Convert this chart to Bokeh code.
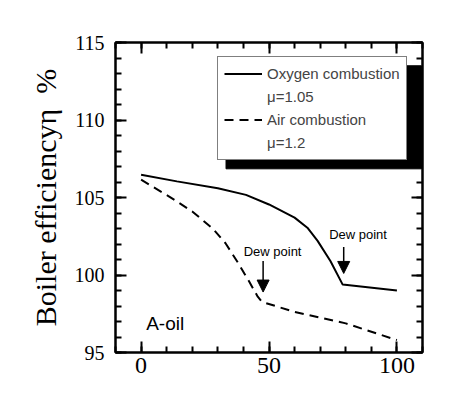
import math
from bokeh.plotting import figure
from bokeh.models import (Range1d, LinearAxis, Legend, LegendItem, Arrow, NormalHead,
                          Title, FixedTicker)
from bokeh.core.properties import value
from bokeh.embed import file_html
from bokeh.resources import INLINE

# ---- data ----
oxy_x = [0, 14, 30, 41, 50, 60, 65, 69, 74, 78.8, 100]
oxy_y = [106.47, 106.04, 105.6, 105.17, 104.55, 103.7, 103.05, 102.2, 100.9, 99.38, 99.0]
air_x = [0, 11, 20, 28, 33, 38, 42.3, 45.6, 47.2, 60, 80, 100]
air_y = [106.15, 105.06, 104.1, 103.0, 102.05, 100.76, 99.56, 98.6, 98.27, 97.62, 96.88, 95.8]

x_ticks = [0, 50, 100]
y_ticks = [95, 100, 105, 110, 115]
x_minor = list(range(-10, 111, 10))
y_minor = list(range(95, 116))

dew_x = [47.7, 79.2]
dew_y_start = [100.9, 101.8]
dew_y_end = [98.9, 100.1]
dew_text_x = [51.4, 84.8]
dew_text_y = [101.5, 102.6]

SERIF = "Liberation Serif"
SANS = "Liberation Sans"

p = figure(width=439, height=377, output_backend="svg", toolbar_location=None,
           x_range=Range1d(-10, 110), y_range=Range1d(95, 115),
           min_border_left=115, min_border_right=17, min_border_top=42, min_border_bottom=25)
p.background_fill_color = "white"
p.border_fill_color = "white"
p.outline_line_color = "black"
p.outline_line_width = 2
p.xgrid.visible = False
p.ygrid.visible = False

def style_axis(ax, ticks, minor, label_size, show_labels=True):
    ax.ticker = FixedTicker(ticks=ticks, minor_ticks=minor)
    ax.major_tick_in = 11
    ax.major_tick_out = 0
    ax.minor_tick_in = 6
    ax.minor_tick_out = 0
    ax.major_tick_line_width = 2
    ax.minor_tick_line_width = 2
    ax.axis_line_width = 2
    ax.axis_line_color = "black"
    ax.major_tick_line_color = "black"
    ax.minor_tick_line_color = "black"
    ax.major_label_text_font = SERIF
    ax.major_label_text_font_size = label_size
    ax.major_label_text_color = "black" if show_labels else None

style_axis(p.xaxis[0], x_ticks, x_minor, "24px")
p.xaxis[0].major_label_standoff = 5
style_axis(p.yaxis[0], y_ticks, y_minor, "20px")
p.yaxis[0].major_label_standoff = 11

top_ax = LinearAxis()
style_axis(top_ax, x_ticks, x_minor, "1px", show_labels=False)
p.add_layout(top_ax, "above")
right_ax = LinearAxis()
style_axis(right_ax, y_ticks, y_minor, "1px", show_labels=False)
p.add_layout(right_ax, "right")

# y axis title placed beside the left axis
ytitle = Title(text="Boiler efficiency\u03b7\u00a0\u00a0%", align="center", offset=0, standoff=20,
               text_font=SERIF, text_font_size="30px", text_font_style="normal",
               text_color="black")
p.add_layout(ytitle, "left")

# legend shadow
p.quad(left=[33.2], right=[109.6], top=[113.5], bottom=[106.85],
       fill_color="black", line_color="black")

oxy = p.line(oxy_x, oxy_y, line_color="black", line_width=2)
air = p.line(air_x, air_y, line_color="black", line_width=2, line_dash="9 6")
blank = p.line([0, 0], [0, 0], line_alpha=0)

for xs, ys, ye in zip(dew_x, dew_y_start, dew_y_end):
    p.add_layout(Arrow(end=NormalHead(size=12, fill_color="black", line_color="black"),
                       x_start=xs, y_start=ys, x_end=xs, y_end=ye,
                       line_width=1.5, line_color="black"))

p.text(x=dew_text_x, y=dew_text_y, text=["Dew point", "Dew point"],
       text_font=value(SANS), text_font_size="13px", text_align="center",
       text_baseline="middle", text_color="black")

p.text(x=[2], y=[96.86], text=["A-oil"], text_font=value(SANS), text_font_size="19px",
       text_align="left", text_baseline="middle", text_color="black")

legend = Legend(items=[
    LegendItem(label="Oxygen combustion", renderers=[oxy]),
    LegendItem(label="\u03bc=1.05", renderers=[blank]),
    LegendItem(label="Air combustion", renderers=[air]),
    LegendItem(label="\u03bc=1.2", renderers=[blank]),
], location=(102, 192))
legend.label_text_font = SANS
legend.label_text_font_size = "15px"
legend.label_height = 21
legend.glyph_height = 21
legend.glyph_width = 38
legend.spacing = 2
legend.padding = 6
legend.margin = 0
legend.label_standoff = 5
legend.border_line_color = "black"
legend.border_line_width = 1
legend.background_fill_alpha = 1
legend.background_fill_color = "white"
p.add_layout(legend, "center")

open("out.html", "w").write(file_html(p, INLINE))
